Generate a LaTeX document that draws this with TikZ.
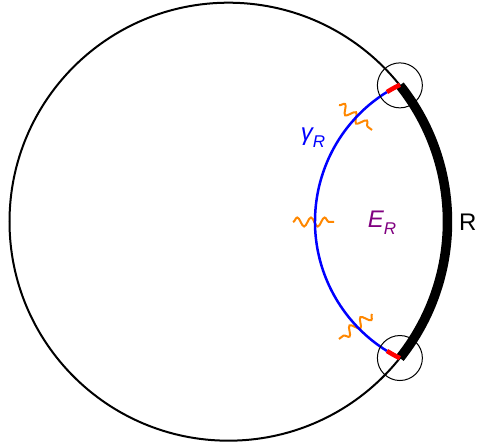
\documentclass[tikz,border=0pt]{standalone}
\usepackage{fontspec}
\setmainfont{Liberation Sans}
\usetikzlibrary{decorations.pathmorphing,calc}
\definecolor{waveorange}{RGB}{255,135,0}
\definecolor{erpurple}{RGB}{128,0,128}
\newcommand\lblsub[1]{\raisebox{-0.28em}{\fontsize{17}{17}\selectfont #1}}
\begin{document}
\begin{tikzpicture}[x=1pt,y=1pt,
  outer/.style={draw=black, line width=2pt},
  boundary/.style={draw=black, line width=9.5pt},
  curve/.style={draw=blue, line width=2.5pt},
  cut/.style={draw=red, line width=4.5pt},
  marker/.style={draw=black, line width=1pt},
  wave/.style={draw=waveorange, line width=2pt, decorate,
    decoration={snake, segment length=13.67pt, amplitude=4.5pt}},
  lbl/.style={font=\fontsize{24}{26}\selectfont, inner sep=0pt}]
\useasboundingbox (0,0) rectangle (477,444);
\coordinate (C) at (228.5,222.3);
\coordinate (B) at (467.5,222.5);
\coordinate (T) at ($(C)+(38.5:219)$);
\coordinate (D) at ($(C)+(-38.5:219)$);
% big circle and thick boundary arc
\draw[outer] (C) circle[radius=219pt];
\draw[boundary] (D) arc[start angle=-38.5, end angle=38.5, radius=219pt];
% orange waves
\coordinate (w1a) at (339,339); \coordinate (w1b) at (372,314);
\coordinate (w2a) at (293,222); \coordinate (w2b) at (334,222);
\coordinate (w3a) at (339,105); \coordinate (w3b) at (372,130);
\draw[wave] (w1a) -- (w1b);
\draw[wave] (w2a) -- (w2b);
\draw[wave] (w3b) -- (w3a);
% blue curve gamma_R with red ends
\draw[curve] ($(B)+(121.9:152.5)$) arc[start angle=121.9, end angle=238.1, radius=152.5pt];
\draw[cut] ($(B)+(116.3:152.5)$) arc[start angle=116.3, end angle=121.9, radius=152.5pt];
\draw[cut] ($(B)+(238.1:152.5)$) arc[start angle=238.1, end angle=243.7, radius=152.5pt];
% small circles at the ends
\draw[marker] (T) circle[radius=22.5pt];
\draw[marker] (D) circle[radius=22.5pt];
% labels
\node[lbl, text=blue] (gam) at (313,306) {\itshape γ\lblsub{R}};
\node[lbl, text=erpurple] (er) at (382,221) {\itshape E\lblsub{R}};
\node[lbl, anchor=west] (r) at (459,222) {R};
\end{tikzpicture}
\end{document}
